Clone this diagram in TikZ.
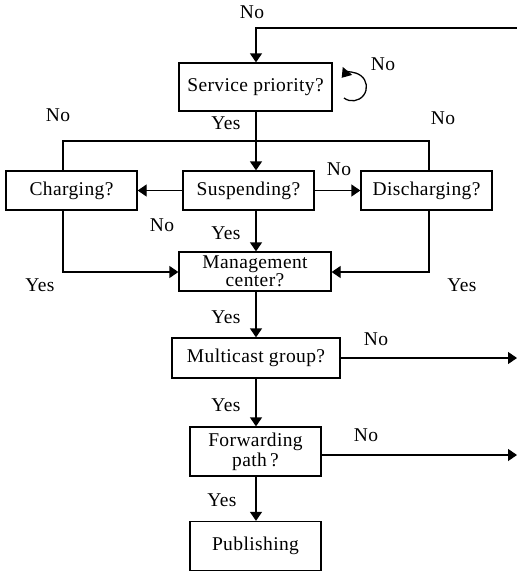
\documentclass[tikz,border=0pt]{standalone}
\usepackage{fontspec}
\setmainfont[LetterSpace=2]{Liberation Serif}
\usetikzlibrary{arrows.meta}
\begin{document}
\begin{tikzpicture}[x=1pt,y=-1pt,
  txt/.style={font=\fontsize{19.5}{21}\selectfont, inner sep=0pt},
  box/.style={txt, draw, line width=1.3pt, align=center, anchor=center},
  line/.style={line width=1.3pt},
  arr/.style={line, -{Triangle[length=9pt,width=12pt]}},
  lbl/.style={txt}]
\useasboundingbox (0,0) rectangle (517,574);

% decision boxes
\node[box, minimum width=153pt, minimum height=48pt] (svc) at (255.5,87) {Service priority?};
\node[box, minimum width=131pt, minimum height=39pt] (chg) at (71.5,190.5) {Charging?};
\node[box, minimum width=131pt, minimum height=39pt] (sus) at (248.5,190.5) {Suspending?};
\node[box, minimum width=131pt, minimum height=39pt] (dis) at (426.5,190.5) {Discharging?};
\node[box, minimum width=152pt, minimum height=39pt] (mgmt) at (255,271.5) {Management\\[-3pt]center?};
\node[box, minimum width=168pt, minimum height=40pt] (mc) at (256,358) {Multicast group?};
\node[box, minimum width=131pt, minimum height=49pt] (fw) at (255.5,451.5) {Forwarding\\[-1pt]path\,?};
\node[box, minimum width=131pt, minimum height=49pt] (pub) at (255.5,546) {Publishing};

% routing points
\coordinate (topR) at (517,28);
\coordinate (spine) at (256,0);
\coordinate (cl) at (63,141);
\coordinate (cr) at (429,141);
\coordinate (bl) at (63,272);
\coordinate (br) at (429,272);
\coordinate (mcEnd) at (517,358);
\coordinate (fwEnd) at (517,455);
\coordinate (loopA) at (344,98);

% connectors
\draw[arr] (topR) -| (svc.north -| spine);
\draw[arr] (loopA) arc[start angle=127, end angle=-140, radius=14];
\draw[arr] (svc.south -| spine) -- (sus.north -| spine);
\draw[line] (cl |- chg.north) -- (cl) -- (cr) -- (cr |- dis.north);
\draw[arr] (sus.west) -- (chg.east);
\draw[arr] (sus.east) -- (dis.west);
\draw[arr] (sus.south -| spine) -- (mgmt.north -| spine);
\draw[arr] (bl |- chg.south) -- (bl) -- (bl -| mgmt.west);
\draw[arr] (br |- dis.south) -- (br) -- (br -| mgmt.east);
\draw[arr] (mgmt.south -| spine) -- (mc.north -| spine);
\draw[arr] (mc.east) -- (mcEnd);
\draw[arr] (mc.south -| spine) -- (fw.north -| spine);
\draw[arr] (fw.east |- fwEnd) -- (fwEnd);
\draw[arr] (fw.south -| spine) -- (pub.north -| spine);

% branch labels
\node[lbl] (n1) at (252,12) {No};
\node[lbl] (n2) at (383,64) {No};
\node[lbl] (y1) at (226,123) {Yes};
\node[lbl] (n3) at (58,115) {No};
\node[lbl] (n4) at (443,118) {No};
\node[lbl] (n5) at (339,169) {No};
\node[lbl] (n6) at (162,225) {No};
\node[lbl] (y2) at (226,233) {Yes};
\node[lbl] (y3) at (40,285) {Yes};
\node[lbl] (y4) at (462,285) {Yes};
\node[lbl] (y5) at (226,317) {Yes};
\node[lbl] (n7) at (376,339) {No};
\node[lbl] (y6) at (226,405) {Yes};
\node[lbl] (n8) at (366,435) {No};
\node[lbl] (y7) at (222,500) {Yes};
\end{tikzpicture}
\end{document}
